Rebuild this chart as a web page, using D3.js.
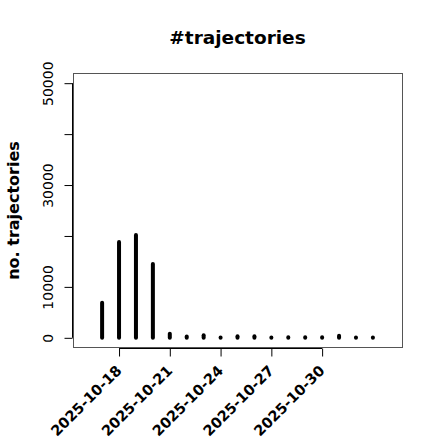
<!DOCTYPE html>
<meta charset="utf-8">
<script src="https://d3js.org/d3.v7.min.js"></script>
<style>
body { margin: 0; background: #fff; }
text { font-family: "DejaVu Sans", sans-serif; }
</style>
<body>
<div id="chart"></div>
<script>
// data
var days = ["2025-10-17", "2025-10-18", "2025-10-19", "2025-10-20", "2025-10-21",
            "2025-10-22", "2025-10-23", "2025-10-24", "2025-10-25", "2025-10-26",
            "2025-10-27", "2025-10-28", "2025-10-29", "2025-10-30", "2025-10-31",
            "2025-11-01", "2025-11-02"];
var counts = [6900, 18800, 20200, 14500, 800, 250, 500, 80, 300, 300,
              40, 120, 120, 120, 400, 40, 50];
var xTicks = ["2025-10-18", "2025-10-21", "2025-10-24", "2025-10-27", "2025-10-30"];
var yTicks = [0, 10000, 20000, 30000, 40000, 50000];
var yLabels = [0, 10000, 30000, 50000];

var W = 440, H = 440;
var box = {left: 73, right: 402, top: 73, bottom: 348};
var parse = d3.utcParse("%Y-%m-%d");

var svg = d3.select("#chart").append("svg")
    .attr("width", W)
    .attr("height", H);

// x range like R: xlim with 4% padding
var x0 = parse("2025-10-16").getTime(), x1 = parse("2025-11-03").getTime();
var xpad = (x1 - x0) * 0.04;
var x = d3.scaleUtc()
    .domain([new Date(x0 - xpad), new Date(x1 + xpad)])
    .range([box.left, box.right]);

var ypad = 50000 * 0.04;
var y = d3.scaleLinear()
    .domain([-ypad, 50000 + ypad])
    .range([box.bottom, box.top]);

// bars (type = "h")
svg.selectAll("line.bar")
  .data(days)
  .enter()
  .append("line")
    .attr("class", "bar")
    .attr("x1", function(d) { return x(parse(d)); })
    .attr("x2", function(d) { return x(parse(d)); })
    .attr("y1", y(0))
    .attr("y2", function(d, i) { return y(counts[i]); })
    .attr("stroke", "#000")
    .attr("stroke-width", 4)
    .attr("stroke-linecap", "round");

// plot box
svg.append("rect")
    .attr("x", box.left + 0.5)
    .attr("y", box.top + 0.5)
    .attr("width", box.right - box.left)
    .attr("height", box.bottom - box.top - 1)
    .attr("fill", "none")
    .attr("stroke", "#555");

// x axis
var xAxis = svg.append("g")
    .attr("transform", "translate(0," + (box.bottom + 0.5) + ")")
    .call(d3.axisBottom(x)
      .tickValues(xTicks.map(parse))
      .tickSize(8)
      .tickSizeOuter(0)
      .tickFormat(d3.utcFormat("%Y-%m-%d")));
xAxis.select(".domain")
    .attr("d", "M" + x(parse(xTicks[0])) + ",0H" + x(parse(xTicks[xTicks.length - 1])));
xAxis.selectAll("text")
    .attr("font-family", "DejaVu Sans")
    .attr("font-size", 14.5)
    .attr("font-weight", "bold")
    .attr("fill", "#000")
    .attr("dy", null)
    .attr("y", null)
    .attr("transform", "translate(3,23)rotate(-45)")
    .style("text-anchor", "end");

// y axis
var yAxis = svg.append("g")
    .attr("transform", "translate(" + (box.left - 0.5) + ",0)")
    .call(d3.axisLeft(y)
      .tickValues(yTicks)
      .tickSize(8)
      .tickSizeOuter(0)
      .tickFormat(function(d) { return yLabels.indexOf(d) >= 0 ? d : ""; }));
yAxis.select(".domain")
    .attr("d", "M0," + y(0) + "V" + y(50000));
yAxis.selectAll("text")
    .attr("font-family", "DejaVu Sans")
    .attr("font-size", 14)
    .attr("fill", "#000")
    .attr("x", null)
    .attr("dy", null)
    .attr("transform", "translate(-20,0)rotate(-90)")
    .style("text-anchor", "middle");

// titles
svg.append("text")
    .attr("x", (box.left + box.right) / 2)
    .attr("y", 44)
    .attr("text-anchor", "middle")
    .attr("font-size", 18.5)
    .attr("font-weight", "bold")
    .text("#trajectories");

svg.append("text")
    .attr("transform", "translate(19," + (box.top + box.bottom) / 2 + ")rotate(-90)")
    .attr("text-anchor", "middle")
    .attr("font-size", 16)
    .attr("font-weight", "bold")
    .text("no. trajectories");
</script>
</body>
